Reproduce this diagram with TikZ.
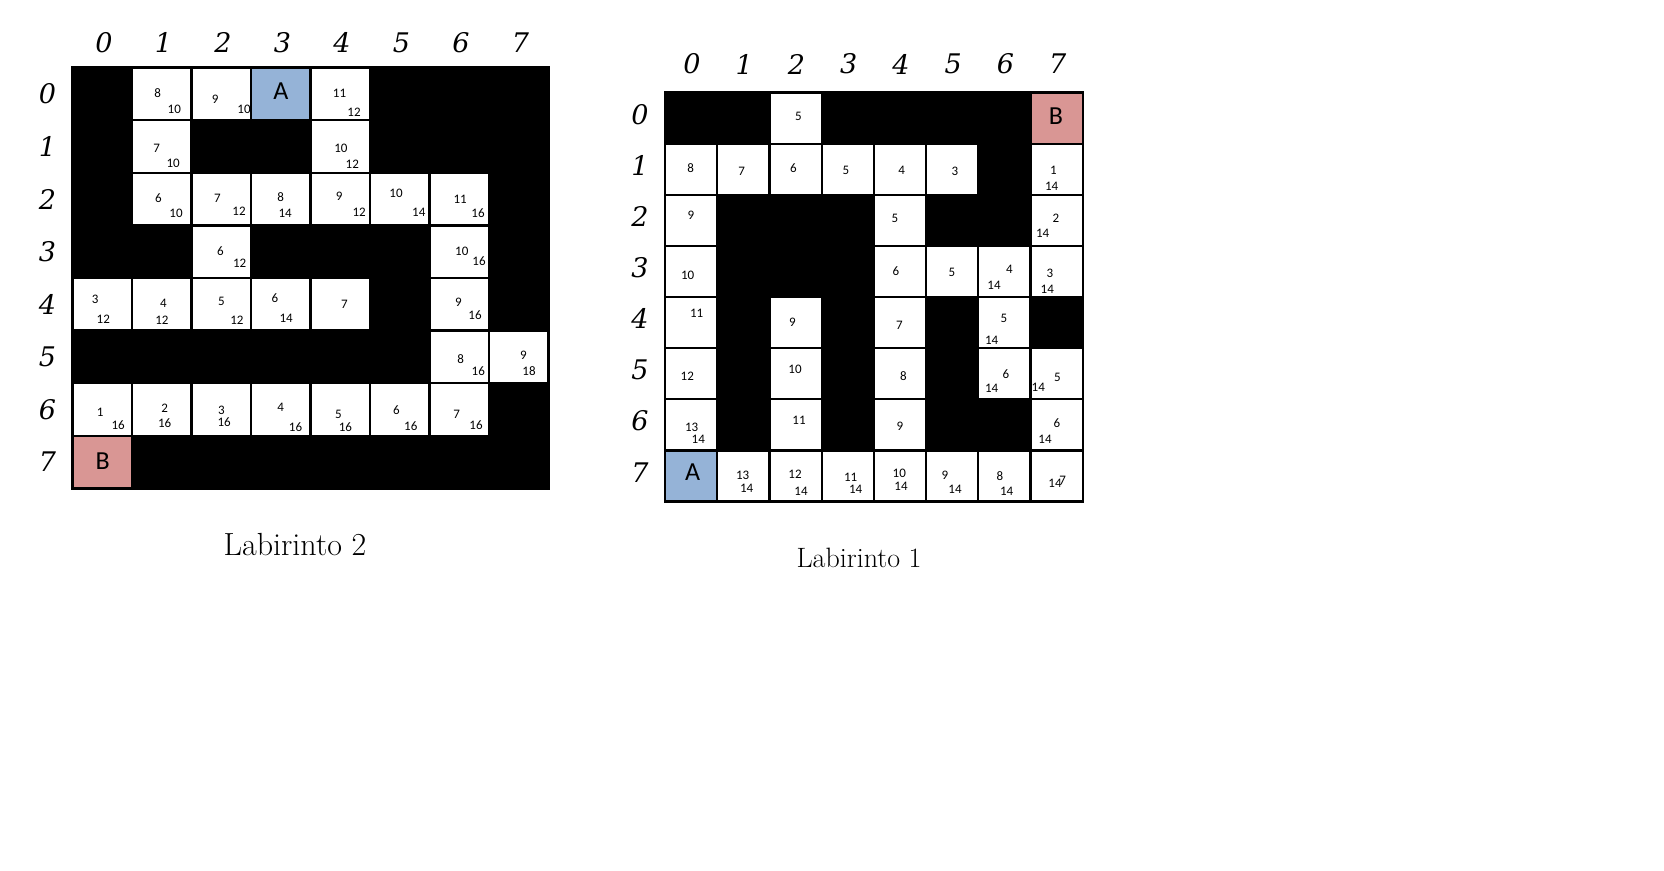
\documentclass[tikz,border=0pt]{standalone}
\usepackage{fontspec}
\newfontfamily\cellfont{Carlito}
\newfontfamily\hdrfont{DejaVu Serif}
\definecolor{cellblue}{RGB}{149,179,215}
\definecolor{cellred}{RGB}{217,150,148}
\tikzset{
  num/.style={font=\cellfont\fontsize{13}{13}\selectfont, inner sep=0pt},
  bigletter/.style={font=\cellfont\fontsize{26}{26}\selectfont, inner sep=0pt},
  hdr/.style={font=\hdrfont\itshape\fontsize{27}{27}\selectfont, inner sep=0pt},
  captxt/.style={inner sep=0pt, anchor=base},
}
\begin{document}
\begin{tikzpicture}[x=1pt,y=-1pt]
\useasboundingbox[fill=white] (0,0) rectangle (1664,870);

% ---------------- Labirinto 2 (left) ----------------
\fill[black] (71.3,66.3) rectangle (549.7,489.5);
\foreach \r/\c in {0/1,0/2,0/4,1/1,1/4,2/1,2/2,2/3,2/4,2/5,2/6,3/2,3/6,
                   4/0,4/1,4/2,4/3,4/4,4/6,5/6,5/7,6/0,6/1,6/2,6/3,6/4,6/5,6/6}
  \fill[white] ({72.5+59.5*\c+1.2},{67.5+52.6*\r+1.2}) rectangle ++(57.1,50.2);
\fill[cellblue] ({72.5+59.5*3+1.2},{67.5+1.2}) rectangle ++(57.1,50.2);
\fill[cellred] ({72.5+1.2},{67.5+52.6*7+1.2}) rectangle ++(57.1,50.2);

\foreach \i in {0,...,7} {
  \node[hdr] (m2col\i) at ({104+59.5*\i},42.5) {\i};
  \node[hdr] (m2row\i) at (47.5,{93.8+52.6*\i}) {\i};
}

\node[bigletter] (m2A) at (281,91) {A};
\node[bigletter] (m2B) at (102.6,461) {B};

\foreach \nm/\x/\y/\t in {
  a1/157.7/93/8, a2/174.3/109/10,
  b1/215.2/99.5/9, b2/244/109/10,
  c1/339.5/93.5/11, c2/354/112.5/12,
  d1/156.7/148.5/7, d2/173.2/163/10,
  e1/340.9/148/10, e2/352.3/164.5/12,
  f1/158.4/198/6, f2/176/213/10,
  g1/217.3/198/7, g2/239/211.5/12,
  h1/280.7/197.5/8, h2/285.2/213.5/14,
  i1/339.2/196/9, i2/359.2/212.5/12,
  j1/396/193/10, j2/418.8/212.5/14,
  k1/460.1/199.5/11, k2/478/213.5/16,
  l1/220.4/251.5/6, l2/239.7/263/12,
  m1/461.8/251.5/10, m2/479/261.5/16,
  n1/95.1/299.5/3, n2/103.3/319/12,
  o1/163.3/303/4, o2/161.9/320/12,
  p1/221.4/301/5, p2/236.9/320/12,
  q1/274.8/298.5/6, q2/286.2/318.5/14,
  r1/344.4/304.5/7,
  s1/458.3/302.7/9, s2/475/315.5/16,
  t1/460.7/359/8, t2/478.3/371/16,
  u1/523.3/355.7/9, u2/529/371/18,
  v1/100.2/412.5/1, v2/118.1/425.5/16,
  w1/164.6/408.5/2, w2/164.6/423.5/16,
  x1/221.4/410/3, x2/224.2/422/16,
  y1/280.7/407/4, y2/295.5/427/16,
  z1/338.5/414/5, z2/345.4/427/16,
  aa1/396.4/410.5/6, aa2/410.8/426/16,
  ab1/456.7/414.3/7, ab2/476/424.8/16}
  \node[num] (m2\nm) at (\x,\y) {\t};

\node[captxt, font=\fontsize{32}{32}\selectfont] (cap2) at (295,555) {Labirinto 2};

% ---------------- Labirinto 1 (right) ----------------
\fill[black] (663.6,91.3) rectangle (1084.0,502.9);
\foreach \r/\c in {0/2,1/0,1/1,1/2,1/3,1/4,1/5,1/7,2/0,2/4,2/7,3/0,3/4,3/5,3/6,3/7,
                   4/0,4/2,4/4,4/6,5/0,5/2,5/4,5/6,5/7,6/0,6/2,6/4,6/7,
                   7/1,7/2,7/3,7/4,7/5,7/6,7/7}
  \fill[white] ({665+52.2*\c+1.1},{92.7+51.1*\r+1.1}) rectangle ++(50,48.9);
\fill[cellblue] ({665+1.1},{92.7+51.1*7+1.1}) rectangle ++(50,48.9);
\fill[cellred] ({665+52.2*7+1.1},{92.7+1.1}) rectangle ++(50,48.9);

\foreach \i in {0,...,7} {
  \node[hdr] (m1col\i) at ({692+52.25*\i},64) {\i};
  \node[hdr] (m1row\i) at (640,{114.5+51.1*\i}) {\i};
}

\node[bigletter] (m1A) at (692.7,471.7) {A};
\node[bigletter] (m1B) at (1056,116) {B};

\foreach \nm/\x/\y/\t in {
  a1/798.3/116/5,
  b1/690.7/167.7/8, c1/741.7/171.7/7, d1/793.3/167.7/6, e1/846/170.7/5,
  f1/901.7/170/4, g1/955/171.7/3,
  h1/1053.3/170.7/1, h2/1051.7/186.7/14,
  i1/691/215/9, j1/895/218.3/5,
  k1/1056/218.3/2, k2/1042.7/233.3/14,
  l1/687.7/275/10, m1/896/270.7/6, n1/952/272.7/5,
  o1/1009.3/269.3/4, o2/994/285/14,
  p1/1050/273.3/3, p2/1047.3/289.3/14,
  q1/696.7/313.3/11, r1/792.3/322.7/9, s1/899.3/325/7,
  t1/1004/318.3/5, t2/991.7/340/14,
  u1/687.3/376/12, v1/795/369.3/10, w1/903.3/376/8,
  x1/1006/374.3/6, x2/991.7/388.3/14,
  y1/1057.3/377.3/5, y2/1038.3/387.3/14,
  z1/691.7/427.3/13, z2/698.3/439.3/14,
  aa1/799/420.7/11, ab1/900/426.7/9,
  ac1/1057/423.5/6, ac2/1045/439.3/14,
  ad1/742.7/475/13, ad2/746.7/488.3/14,
  ae1/795/474.3/12, ae2/801/491/14,
  af1/850.7/477.3/11, af2/855.7/489/14,
  ag1/899.3/473.3/10, ag2/901/486.7/14,
  ah1/945/475/9, ah2/955/489/14,
  ai1/1000/476/8, ai2/1006.7/491/14,
  aj2/1055/483/14, aj1/1062.7/480.5/7}
  \node[num] (m1\nm) at (\x,\y) {\t};

\node[captxt, font=\fontsize{28}{28}\selectfont] (cap1) at (859,567) {Labirinto 1};
\end{tikzpicture}
\end{document}
